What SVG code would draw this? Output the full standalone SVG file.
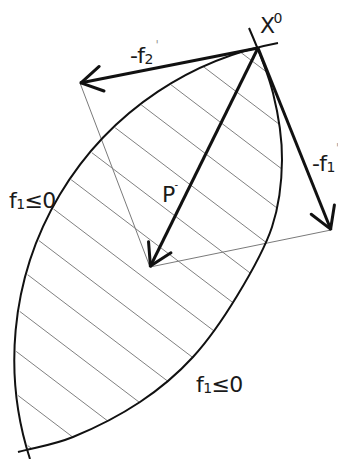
<svg xmlns="http://www.w3.org/2000/svg" width="338" height="459" viewBox="0 0 338 459">
<style>
.hatch{stroke:#808080;stroke-width:1;fill:none}
.thin{stroke:#7a7a7a;stroke-width:1;fill:none}
.curve{stroke:#111;stroke-width:2;fill:none}
.vec{stroke:#111;stroke-width:3;fill:none;marker-end:url(#ah)}
.lbl{font-family:"DejaVu Sans",Verdana,sans-serif;font-size:22px;letter-spacing:-0.6px;fill:#1a1a1a}
</style>
<defs>
<marker id="ah" markerUnits="userSpaceOnUse" markerWidth="40" markerHeight="40" viewBox="-30 -20 40 40" refX="0" refY="0" orient="auto" overflow="visible">
<path d="M-22,-12.5 L-1,0 L-22,12.5" fill="none" stroke="#111" stroke-width="3" stroke-linejoin="round" stroke-linecap="round"/>
</marker>
<clipPath id="cL"><circle cx="338" cy="360" r="322"/></clipPath>
<clipPath id="cR"><path d="M249,28 C258.5,50 267.5,71 273,93 C278.5,115 282.2,137.7 282,160 C281.8,182.3 279.5,204.3 272,227 C264.5,249.7 250.2,274.3 237,296 C223.8,317.7 209.2,339.3 193,357 C176.8,374.7 160,388.7 140,402 C120,415.3 93.3,428.7 73,437 C52.7,445.3 36.3,447 18,452 L-50,470 L-50,-10 L249,-10 Z"/></clipPath>
</defs>
<g id="hatching" clip-path="url(#cL)">
<g clip-path="url(#cR)">
<line class="hatch" x1="-10" y1="-138.2" x2="350" y2="135.4"/>
<line class="hatch" x1="-10" y1="-95.5" x2="350" y2="178.1"/>
<line class="hatch" x1="-10" y1="-52.8" x2="350" y2="220.8"/>
<line class="hatch" x1="-10" y1="-10.1" x2="350" y2="263.5"/>
<line class="hatch" x1="-10" y1="32.6" x2="350" y2="306.2"/>
<line class="hatch" x1="-10" y1="75.3" x2="350" y2="348.9"/>
<line class="hatch" x1="-10" y1="118" x2="350" y2="391.6"/>
<line class="hatch" x1="-10" y1="160.7" x2="350" y2="434.3"/>
<line class="hatch" x1="-10" y1="203.4" x2="350" y2="477"/>
<line class="hatch" x1="-10" y1="246.1" x2="350" y2="519.7"/>
<line class="hatch" x1="-10" y1="288.8" x2="350" y2="562.4"/>
<line class="hatch" x1="-10" y1="331.5" x2="350" y2="605.1"/>
<line class="hatch" x1="-10" y1="374.2" x2="350" y2="647.8"/>
<line class="hatch" x1="-10" y1="416.9" x2="350" y2="690.5"/>
</g>
</g>
<g id="construction">
<polyline class="thin" points="80,83 150,267 331,230"/>
</g>
<g id="curves">
<path id="f2-boundary" class="curve" d="M278,43 A322,322 0 0 0 30,459"/>
<path id="f1-boundary" class="curve" d="M249,28 C258.5,50 267.5,71 273,93 C278.5,115 282.2,137.7 282,160 C281.8,182.3 279.5,204.3 272,227 C264.5,249.7 250.2,274.3 237,296 C223.8,317.7 209.2,339.3 193,357 C176.8,374.7 160,388.7 140,402 C120,415.3 93.3,428.7 73,437 C52.7,445.3 36.3,447 18,452"/>
</g>
<g id="vectors">
<line id="v-f2" class="vec" x1="258" y1="48" x2="80" y2="83"/>
<line id="v-f1" class="vec" x1="258" y1="48" x2="331" y2="230"/>
<line id="v-p" class="vec" x1="258" y1="48" x2="150" y2="267"/>
</g>
<g id="labels">
<text class="lbl" x="260" y="33.3">X<tspan x="273.5" y="23" font-size="14">0</tspan></text>
<text class="lbl" x="130" y="62.5">-f<tspan font-size="14" dy="1">2</tspan><tspan x="155.5" y="49" font-size="12" fill="#999">'</tspan></text>
<text class="lbl" x="312" y="170.5">-f<tspan font-size="14" dy="1">1</tspan><tspan x="336" y="152" font-size="12" fill="#999">'</tspan></text>
<text class="lbl" x="162" y="201.7">P<tspan x="174.5" y="188" font-size="10">-</tspan></text>
<text class="lbl" x="9" y="208">f<tspan font-size="14" dy="1">1</tspan><tspan dy="-1">≤0</tspan></text>
<text class="lbl" x="196" y="391.7">f<tspan font-size="14" dy="1">1</tspan><tspan dy="-1">≤0</tspan></text>
</g>
</svg>
